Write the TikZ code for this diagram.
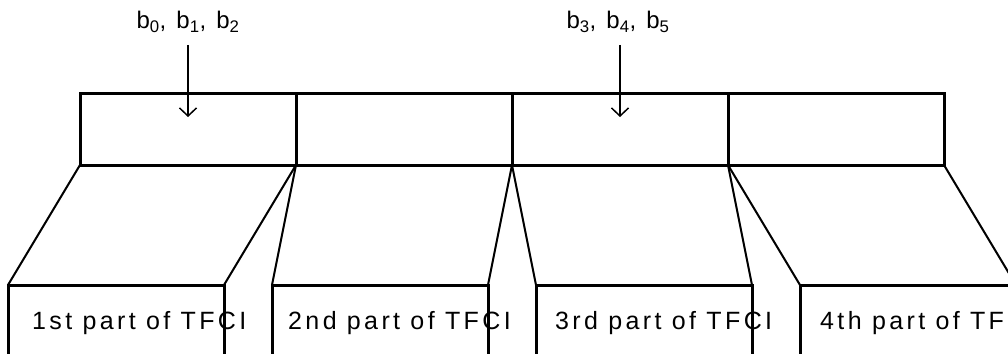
\documentclass[tikz,border=0pt]{standalone}
\usepackage{fontspec}
\setmainfont{Liberation Sans}
\newfontfamily\lblfont[LetterSpace=13.5]{Liberation Sans}
\newfontfamily\bitfont[LetterSpace=14]{Liberation Sans}
\usetikzlibrary{arrows.meta}
\begin{document}
\begin{tikzpicture}[x=1pt,y=-1pt,
  topbox/.style={draw, line width=3pt, minimum width=216pt, minimum height=72pt, inner sep=0pt, outer sep=0pt, anchor=north west},
  partbox/.style={draw, line width=3pt, minimum width=216pt, minimum height=140pt, inner sep=0pt, outer sep=0pt, anchor=north west},
  slant/.style={line width=2pt},
  bitarrow/.style={line width=1.5pt, -{Straight Barb[length=8pt,width=17pt]}},
  parttext/.style={font=\fontsize{25}{25}\lblfont, anchor=base west, inner sep=0pt},
  bitstext/.style={font=\fontsize{24}{24}\bitfont, anchor=base, inner sep=0pt}]
\useasboundingbox (0,0) rectangle (1008,353);
\clip (0,0) rectangle (1008,353);
% upper boxes
\node[topbox] (t1) at (80,93) {};
\node[topbox] (t2) at (296,93) {};
\node[topbox] (t3) at (512,93) {};
\node[topbox] (t4) at (728,93) {};
% lower boxes
\node[partbox] (b1) at (8,285) {};
\node[partbox] (b2) at (272,285) {};
\node[partbox] (b3) at (536,285) {};
\node[partbox] (b4) at (800,285) {};
% slanted connectors
\draw[slant] (t1.south west) -- (b1.north west);
\draw[slant] (t1.south east) -- (b1.north east);
\draw[slant] (t2.south west) -- (b2.north west);
\draw[slant] (t2.south east) -- (b2.north east);
\draw[slant] (t3.south west) -- (b3.north west);
\draw[slant] (t3.south east) -- (b3.north east);
\draw[slant] (t4.south west) -- (b4.north west);
\draw[slant] (t4.south east) -- (b4.north east);
% texts
\node[parttext] (p1) at (32,329) {1st part of TFCI};
\node[parttext] (p2) at (288,329) {2nd part of TFCI};
\node[parttext] (p3) at (555,329) {3rd part of TFCI};
\node[parttext] (p4) at (820,329) {4th part of TFCI};
\node[bitstext] (bits1) at (188,29) {b\textsubscript{0}, b\textsubscript{1}, b\textsubscript{2}};
\node[bitstext] (bits2) at (618,29) {b\textsubscript{3}, b\textsubscript{4}, b\textsubscript{5}};
% arrows
\coordinate (a1s) at (188,45);
\coordinate (a1e) at (188,117);
\coordinate (a2s) at (620,45);
\coordinate (a2e) at (620,117);
\draw[bitarrow] (a1s) -- (a1e);
\draw[bitarrow] (a2s) -- (a2e);
\end{tikzpicture}
\end{document}
